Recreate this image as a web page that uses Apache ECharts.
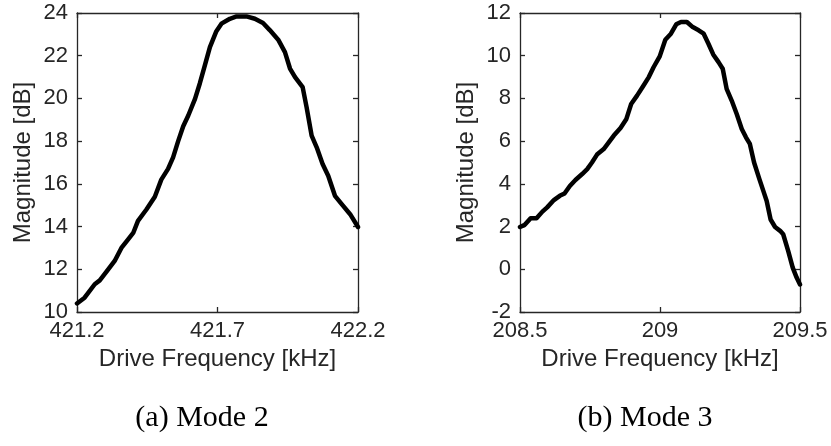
<!DOCTYPE html>
<html>
<head>
<meta charset="utf-8">
<script src="https://cdn.jsdelivr.net/npm/echarts@6/dist/echarts.min.js"></script>
<style>
html,body{margin:0;padding:0;background:#fff;}
#chart{width:831px;height:446px;}
</style>
</head>
<body>
<div id="chart"></div>
<script>
// Mode 2 (a)
const freqA = [421.200, 421.227, 421.263, 421.281, 421.305, 421.334, 421.358, 421.382, 421.400, 421.417, 421.447, 421.477, 421.500, 421.524, 421.542, 421.560, 421.578, 421.596, 421.620, 421.637, 421.655, 421.673, 421.696, 421.714, 421.744, 421.768, 421.803, 421.833, 421.862, 421.886, 421.916, 421.940, 421.958, 421.976, 422.003, 422.017, 422.035, 422.053, 422.074, 422.094, 422.118, 422.142, 422.172, 422.200];
const magA = [10.40, 10.67, 11.30, 11.48, 11.89, 12.39, 13.00, 13.40, 13.70, 14.27, 14.80, 15.40, 16.20, 16.70, 17.24, 18.00, 18.70, 19.20, 19.98, 20.70, 21.55, 22.40, 23.15, 23.50, 23.73, 23.84, 23.84, 23.73, 23.53, 23.20, 22.75, 22.17, 21.40, 21.00, 20.53, 19.59, 18.26, 17.71, 16.93, 16.38, 15.44, 15.05, 14.58, 13.98];
// Mode 3 (b)
const freqB = [208.500, 208.517, 208.538, 208.559, 208.580, 208.597, 208.621, 208.642, 208.659, 208.678, 208.698, 208.722, 208.740, 208.757, 208.775, 208.799, 208.817, 208.835, 208.859, 208.880, 208.897, 208.918, 208.939, 208.960, 208.977, 208.999, 209.019, 209.039, 209.058, 209.075, 209.096, 209.117, 209.138, 209.156, 209.173, 209.190, 209.209, 209.224, 209.238, 209.256, 209.274, 209.292, 209.307, 209.321, 209.336, 209.355, 209.369, 209.381, 209.395, 209.411, 209.429, 209.440, 209.458, 209.474, 209.488, 209.500];
const magB = [1.98, 2.08, 2.39, 2.39, 2.70, 2.90, 3.24, 3.44, 3.55, 3.90, 4.18, 4.46, 4.69, 5.00, 5.37, 5.63, 5.94, 6.26, 6.62, 7.04, 7.74, 8.13, 8.56, 9.00, 9.46, 9.97, 10.75, 11.03, 11.47, 11.58, 11.58, 11.34, 11.19, 11.03, 10.56, 10.06, 9.70, 9.39, 8.45, 7.90, 7.27, 6.57, 6.18, 5.87, 5.00, 4.22, 3.67, 3.20, 2.33, 1.98, 1.80, 1.64, 0.85, 0.08, -0.39, -0.71];

const xTicksA = [421.2, 421.7, 422.2];
const xTicksB = [208.5, 209, 209.5];
const yRangeA = [10, 24];
const yRangeB = [-2, 12];
const xLabel = 'Drive Frequency [kHz]';
const yLabel = 'Magnitude [dB]';
const captions = ['(a) Mode 2', '(b) Mode 3'];

const axisColor = '#262626';
const font = 'Liberation Sans, Arial, Helvetica, sans-serif';

function xAxes(gi, ticks) {
  const lo = ticks[0], hi = ticks[ticks.length - 1];
  return [
    {
      type: 'value', gridIndex: gi, min: lo, max: hi, position: 'bottom',
      axisLine: { show: true, onZero: false, lineStyle: { color: axisColor, width: 1.3 } },
      axisTick: { show: true, inside: true, length: 5, customValues: ticks, lineStyle: { color: axisColor, width: 1.3 } },
      axisLabel: { show: true, customValues: ticks, margin: 8, color: axisColor, fontSize: 22, fontFamily: font,
        formatter: v => String(+v.toFixed(3)) },
      splitLine: { show: false },
      name: xLabel, nameLocation: 'middle', nameGap: 32,
      nameTextStyle: { color: axisColor, fontSize: 24, fontFamily: font }
    },
    {
      type: 'value', gridIndex: gi, min: lo, max: hi, position: 'top',
      axisLine: { show: true, onZero: false, lineStyle: { color: axisColor, width: 1.3 } },
      axisTick: { show: true, inside: true, length: 5, customValues: ticks, lineStyle: { color: axisColor, width: 1.3 } },
      axisLabel: { show: false },
      splitLine: { show: false }
    }
  ];
}
function yAxes(gi, range, gap) {
  return [
    {
      type: 'value', gridIndex: gi, min: range[0], max: range[1], interval: 2, position: 'left',
      axisLine: { show: true, onZero: false, lineStyle: { color: axisColor, width: 1.3 } },
      axisTick: { show: true, inside: true, length: 5, lineStyle: { color: axisColor, width: 1.3 } },
      axisLabel: { show: true, margin: 9, color: axisColor, fontSize: 22, fontFamily: font },
      splitLine: { show: false },
      name: yLabel, nameLocation: 'middle', nameGap: gap, nameRotate: 90,
      nameTextStyle: { color: axisColor, fontSize: 24, fontFamily: font }
    },
    {
      type: 'value', gridIndex: gi, min: range[0], max: range[1], interval: 2, position: 'right',
      axisLine: { show: true, onZero: false, lineStyle: { color: axisColor, width: 1.3 } },
      axisTick: { show: true, inside: true, length: 5, lineStyle: { color: axisColor, width: 1.3 } },
      axisLabel: { show: false },
      splitLine: { show: false }
    }
  ];
}

const chart = echarts.init(document.getElementById('chart'), null, { renderer: 'canvas' });
chart.setOption({
  animation: false,
  backgroundColor: '#fff',
  grid: [
    { left: 77, top: 13, width: 281, height: 299 },
    { left: 520, top: 13, width: 280, height: 299 }
  ],
  xAxis: [...xAxes(0, xTicksA), ...xAxes(1, xTicksB)],
  yAxis: [...yAxes(0, yRangeA, 42), ...yAxes(1, yRangeB, 42)],
  series: [
    {
      type: 'line', xAxisIndex: 0, yAxisIndex: 0, showSymbol: false, symbol: 'none', clip: false,
      lineStyle: { color: '#000', width: 4.5, join: 'round', cap: 'round' },
      data: freqA.map((f, i) => [f, magA[i]])
    },
    {
      type: 'line', xAxisIndex: 2, yAxisIndex: 2, showSymbol: false, symbol: 'none', clip: false,
      lineStyle: { color: '#000', width: 4.5, join: 'round', cap: 'round' },
      data: freqB.map((f, i) => [f, magB[i]])
    }
  ],
  graphic: [
    { type: 'text', x: 202, y: 418, style: { text: captions[0], fill: '#000', font: '30px "Liberation Serif", "Times New Roman", serif', textAlign: 'center', textVerticalAlign: 'middle' } },
    { type: 'text', x: 645, y: 418, style: { text: captions[1], fill: '#000', font: '30px "Liberation Serif", "Times New Roman", serif', textAlign: 'center', textVerticalAlign: 'middle' } }
  ]
});
</script>
</body>
</html>
